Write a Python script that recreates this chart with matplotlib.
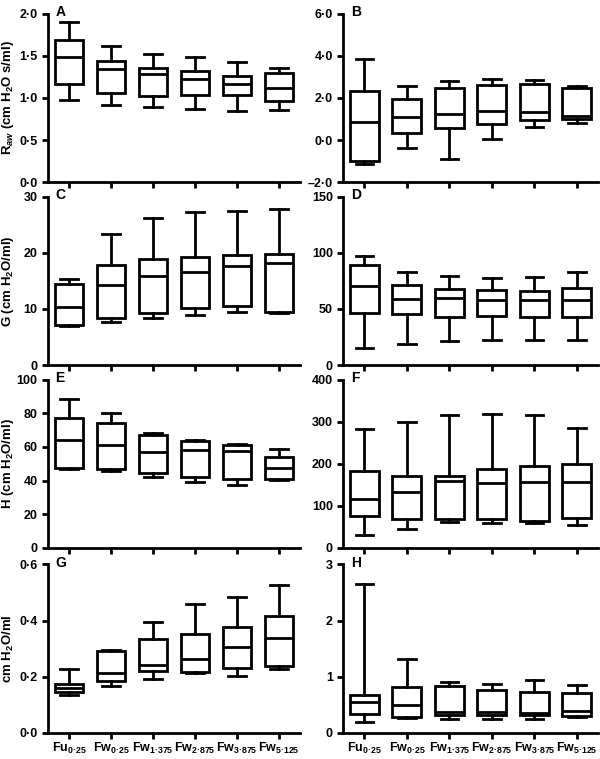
import matplotlib
matplotlib.use("Agg")
import matplotlib.pyplot as plt

plt.rcParams['font.family'] = ['Liberation Sans', 'DejaVu Sans']
plt.rcParams['font.weight'] = 'bold'
plt.rcParams['mathtext.fontset'] = 'custom'
plt.rcParams['mathtext.rm'] = 'Liberation Sans:bold'
plt.rcParams['mathtext.it'] = 'Liberation Sans:bold:italic'
plt.rcParams['mathtext.bf'] = 'Liberation Sans:bold'

groups = ["Fu$_{0{·}25}$", "Fw$_{0{·}25}$", "Fw$_{1{·}375}$",
          "Fw$_{2{·}875}$", "Fw$_{3{·}875}$", "Fw$_{5{·}125}$"]

# each box: whisker low, Q1, median, Q3, whisker high
raw_A = [[0.97, 1.17, 1.485, 1.69, 1.90],
         [0.92, 1.06, 1.34, 1.44, 1.62],
         [0.89, 1.02, 1.28, 1.35, 1.52],
         [0.87, 1.03, 1.22, 1.32, 1.48],
         [0.85, 1.04, 1.17, 1.26, 1.43],
         [0.86, 0.96, 1.12, 1.29, 1.36]]
raw_B = [[-1.12, -1.01, 0.84, 2.35, 3.85],
         [-0.40, 0.32, 1.11, 1.94, 2.58],
         [-0.92, 0.59, 1.22, 2.49, 2.82],
         [0.05, 0.78, 1.37, 2.63, 2.91],
         [0.62, 0.95, 1.34, 2.64, 2.83],
         [0.82, 1.01, 1.15, 2.47, 2.55]]
raw_C = [[6.9, 7.1, 10.3, 14.4, 15.3],
         [7.7, 8.3, 14.3, 17.8, 23.3],
         [8.4, 9.3, 15.9, 18.9, 26.1],
         [9.0, 10.1, 16.5, 19.3, 27.3],
         [9.4, 10.5, 17.7, 19.6, 27.5],
         [9.3, 9.5, 18.1, 19.8, 27.8]]
raw_D = [[15.0, 46.5, 70.2, 88.8, 96.9],
         [19.2, 45.6, 58.5, 71.1, 82.8],
         [21.0, 43.2, 59.4, 68.1, 78.9],
         [21.9, 43.5, 57.6, 67.2, 77.1],
         [21.9, 43.2, 57.6, 66.0, 78.3],
         [22.2, 42.6, 58.2, 68.4, 82.5]]
raw_E = [[46.9, 47.5, 64.1, 77.3, 88.2],
         [45.8, 46.7, 61.1, 74.0, 79.9],
         [42.4, 44.4, 57.0, 67.1, 68.2],
         [39.4, 42.4, 58.2, 63.5, 64.1],
         [37.3, 40.8, 57.6, 60.9, 61.7],
         [40.2, 41.2, 47.7, 54.0, 59.0]]
raw_F = [[30, 75, 116, 183, 283],
         [46, 69, 132, 172, 298],
         [62, 68, 160, 170, 315],
         [60, 70, 155, 188, 317],
         [60, 64, 156, 194, 316],
         [55, 72, 157, 200, 284]]
raw_G = [[0.135, 0.147, 0.161, 0.176, 0.226],
         [0.167, 0.184, 0.212, 0.293, 0.295],
         [0.191, 0.220, 0.241, 0.336, 0.394],
         [0.213, 0.218, 0.263, 0.351, 0.458],
         [0.203, 0.233, 0.305, 0.379, 0.483],
         [0.227, 0.237, 0.339, 0.418, 0.528]]
raw_H = [[0.20, 0.34, 0.56, 0.68, 2.66],
         [0.27, 0.28, 0.49, 0.81, 1.32],
         [0.25, 0.32, 0.37, 0.83, 0.91],
         [0.24, 0.32, 0.38, 0.77, 0.88],
         [0.25, 0.32, 0.36, 0.73, 0.94],
         [0.28, 0.31, 0.39, 0.72, 0.86]]

yticks_A = [0, 0.5, 1.0, 1.5, 2.0]
yticks_B = [-2, 0, 2, 4, 6]
yticks_C = [0, 10, 20, 30]
yticks_D = [0, 50, 100, 150]
yticks_E = [0, 20, 40, 60, 80, 100]
yticks_F = [0, 100, 200, 300, 400]
yticks_G = [0, 0.2, 0.4, 0.6]
yticks_H = [0, 1, 2, 3]

ylabels = {"A": "R$_{aw}$ (cm H$_2$O s/ml)", "C": "G (cm H$_2$O/ml)",
           "E": "H (cm H$_2$O/ml)", "G": "cm H$_2$O/ml"}


def dot_label(v, nd):
    if nd == 0:
        return "%d" % v
    s = ("%." + str(nd) + "f") % v
    return s.replace("-", "\u2013").replace(".", "\u00b7")


panels = [("A", raw_A, yticks_A, 1), ("B", raw_B, yticks_B, 1),
          ("C", raw_C, yticks_C, 0), ("D", raw_D, yticks_D, 0),
          ("E", raw_E, yticks_E, 0), ("F", raw_F, yticks_F, 0),
          ("G", raw_G, yticks_G, 1), ("H", raw_H, yticks_H, 0)]

fig = plt.figure(figsize=(6, 7.59), dpi=100)
lefts = [0.08, 0.572]
widths = [0.42, 0.425]
bottoms = [0.760, 0.519, 0.278, 0.0343]
h = 0.222
lw = 2.0

for i, (letter, raw, yt, nd) in enumerate(panels):
    row, col = i // 2, i % 2
    ax = fig.add_axes([lefts[col], bottoms[row], widths[col], h])
    stats = []
    for r in raw:
        stats.append({"whislo": r[0], "q1": r[1], "med": r[2],
                      "q3": r[3], "whishi": r[4], "fliers": []})
    ax.bxp(stats, positions=range(1, 7), widths=0.68, capwidths=0.42,
           showfliers=False, patch_artist=True,
           boxprops=dict(facecolor="white", edgecolor="black", linewidth=lw),
           medianprops=dict(color="black", linewidth=lw),
           whiskerprops=dict(color="black", linewidth=lw),
           capprops=dict(color="black", linewidth=lw))
    ax.set_xlim(0.5, 6.5)
    ax.set_ylim(yt[0], yt[-1])
    ax.set_yticks(yt)
    ax.set_yticklabels([dot_label(v, nd) for v in yt])
    ax.set_xticks(range(1, 7))
    if row == 3:
        ax.set_xticklabels(groups, fontsize=10)
    else:
        ax.set_xticklabels([])
    for s in ["top", "right"]:
        ax.spines[s].set_visible(False)
    for s in ["left", "bottom"]:
        ax.spines[s].set_linewidth(lw)
    ax.tick_params(axis="both", direction="out", length=4, width=lw,
                   labelsize=9)
    ax.tick_params(axis="x", pad=1.5)
    ax.text(0.03, 1.05, letter, transform=ax.transAxes, fontsize=10,
            fontweight="bold", va="top", ha="left")
    if letter in ylabels:
        ax.set_ylabel(ylabels[letter], fontsize=9.5, fontweight="bold")
        ax.yaxis.set_label_coords(-0.125, 0.5)

fig.savefig("out.png", dpi=100)
